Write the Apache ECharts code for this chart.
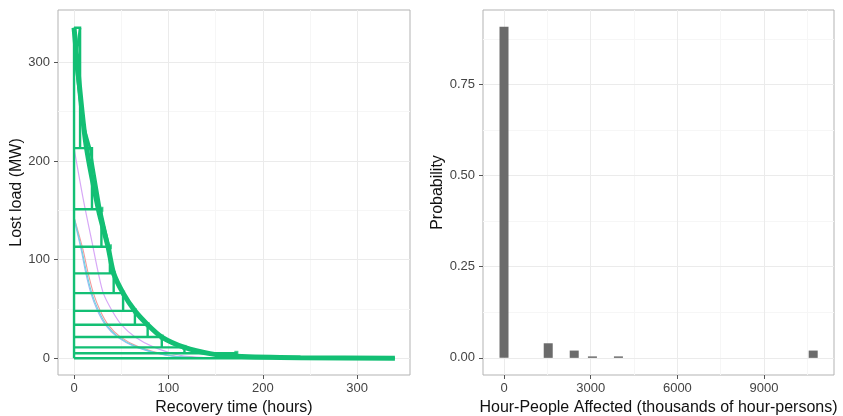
<!DOCTYPE html>
<html>
<head>
<meta charset="utf-8">
<script src="https://cdn.jsdelivr.net/npm/echarts@6/dist/echarts.min.js"></script>
<style>html,body{margin:0;padding:0;background:#fff}#c{width:843px;height:416px}</style>
</head>
<body>
<div id="c"></div>
<script>
// ---------- Left panel data ----------
const leftXTicks = [0, 100, 200, 300];
const leftXMinor = [50, 150, 250];
const leftYTicks = [0, 100, 200, 300];
const leftYMinor = [50, 150, 250];
const leftXRange = [-17, 356];
const leftYRange = [-17, 353];

// staircase: level and time at which it ends
const stepLevels = [335, 213, 151, 113, 86, 66, 48, 34, 21.5, 11, 5, 0];
const stepTimes  = [6.4, 19, 29, 38, 42, 52, 64.5, 78, 93, 117, 172, 340];

// thick green recovery curve
const thickT = [0, 12, 26, 36, 42, 52, 64.5, 78, 93, 117, 144, 172, 240, 340];
const thickV = [335, 221, 150, 113, 86, 66, 48, 34, 21.5, 11, 4.7, 2, 0.5, 0];
// second green trace near the top
const thick2T = [6.4, 1.5, 9, 17, 27.6, 37];
const thick2V = [335, 300, 240, 213, 153, 113];

// faint curves
const purpleT = [0, 10, 19, 25.8, 31, 40, 50.6, 64.7, 84, 112, 140, 170];
const purpleV = [213, 160, 118, 86, 66, 48.7, 33.5, 21.6, 11.5, 3, 0.5, 0];
const redT  = [0, 9.5, 15, 20.5, 27.5, 36.5, 49, 68.5, 100, 132, 152];
const redV  = [143, 110, 86, 66, 48.7, 33.5, 21.6, 11.5, 3, 0.5, 0];
const cyanT = [0, 8.2, 13.5, 18.8, 25.8, 34.6, 46.9, 66.4, 98.3, 130, 150];
const cyanV = [143, 110, 86, 66, 48.7, 33.5, 21.6, 11.5, 3, 0.5, 0];
const blueT = [0, 7.5, 12.5, 17.8, 24.6, 33.4, 45.5, 65, 97, 128, 148];
const blueV = [141, 110, 86, 66, 48.7, 33.5, 21.6, 11.5, 3, 0.5, 0];

// ---------- Right panel data ----------
const hpaValues  = [0, 1530, 2430, 3060, 3960, 10700];
const probValues = [0.908, 0.04, 0.02, 0.004, 0.004, 0.02];
const rightXTicks = [0, 3000, 6000, 9000];
const rightXMinor = [1500, 4500, 7500, 10500];
const rightYTicks = [0, 0.25, 0.5, 0.75];
const rightYMinor = [0.125, 0.375, 0.625, 0.875];
const rightXRange = [-727, 11420];
const rightYRange = [-0.047, 0.954];

const FONT = 'Liberation Sans, Arial, sans-serif';
const GREEN = '#13BF74';

function zip(a, b) { return a.map((v, i) => [v, b[i]]); }

function gridSegs(xs, ys, xr, yr) {
  return xs.map(v => ({ coords: [[v, yr[0]], [v, yr[1]]] }))
    .concat(ys.map(v => ({ coords: [[xr[0], v], [xr[1], v]] })));
}
function gridSeries(idx, xs, ys, xr, yr, color) {
  return { type: 'lines', coordinateSystem: 'cartesian2d', xAxisIndex: idx, yAxisIndex: idx, z: 0, silent: true,
    data: gridSegs(xs, ys, xr, yr), lineStyle: { color: color, width: 1, opacity: 1, type: 'solid' } };
}

// staircase polylines
const stairs = [{ coords: [[0, stepLevels[0]], [0, 0]] }];
for (let i = 0; i < stepLevels.length; i++) {
  const pts = [[0, stepLevels[i]], [stepTimes[i], stepLevels[i]]];
  if (i + 1 < stepLevels.length) pts.push([stepTimes[i], stepLevels[i + 1]]);
  stairs.push({ coords: pts });
}

const axisLabelStyle = { color: '#444', fontSize: 13, fontFamily: FONT };
const nameStyle = { color: '#111', fontSize: 16, fontFamily: FONT };

const option = {
  animation: false,
  backgroundColor: '#fff',
  grid: [
    { left: 58, top: 10, width: 352, height: 365, show: true, borderColor: '#b3b3b3', borderWidth: 1,
      backgroundColor: 'transparent', containLabel: false, outerBoundsMode: 'none' },
    { left: 483, top: 10, width: 351, height: 365, show: true, borderColor: '#b3b3b3', borderWidth: 1,
      backgroundColor: 'transparent', containLabel: false, outerBoundsMode: 'none' }
  ],
  xAxis: [
    {
      gridIndex: 0, type: 'value', min: leftXRange[0], max: leftXRange[1], position: 'bottom',
      name: 'Recovery time (hours)', nameLocation: 'middle', nameGap: 24, nameTextStyle: nameStyle,
      axisLine: { show: false, onZero: false },
      axisTick: { show: true, customValues: leftXTicks, length: 4, lineStyle: { color: '#555' } },
      axisLabel: Object.assign({ customValues: leftXTicks, margin: 7, formatter: v => String(v) }, axisLabelStyle),
      splitLine: { show: false }
    },
    {
      gridIndex: 1, type: 'value', min: rightXRange[0], max: rightXRange[1], position: 'bottom',
      name: 'Hour-People Affected (thousands of hour-persons)', nameLocation: 'middle', nameGap: 24, nameTextStyle: nameStyle,
      axisLine: { show: false, onZero: false },
      axisTick: { show: true, customValues: rightXTicks, length: 4, lineStyle: { color: '#555' } },
      axisLabel: Object.assign({ customValues: rightXTicks, margin: 7, formatter: v => String(v) }, axisLabelStyle),
      splitLine: { show: false }
    }
  ],
  yAxis: [
    {
      gridIndex: 0, type: 'value', min: leftYRange[0], max: leftYRange[1], position: 'left',
      name: 'Lost load (MW)', nameLocation: 'middle', nameGap: 30, nameTextStyle: nameStyle,
      axisLine: { show: false, onZero: false },
      axisTick: { show: true, customValues: leftYTicks, length: 4, lineStyle: { color: '#555' } },
      axisLabel: Object.assign({ customValues: leftYTicks, margin: 8, formatter: v => String(v) }, axisLabelStyle),
      splitLine: { show: false }
    },
    {
      gridIndex: 1, type: 'value', min: rightYRange[0], max: rightYRange[1], position: 'left',
      name: 'Probability', nameLocation: 'middle', nameGap: 33, nameTextStyle: nameStyle,
      axisLine: { show: false, onZero: false },
      axisTick: { show: true, customValues: rightYTicks, length: 4, lineStyle: { color: '#555' } },
      axisLabel: Object.assign({ customValues: rightYTicks, margin: 8,
        formatter: v => v.toFixed(2) }, axisLabelStyle),
      splitLine: { show: false }
    }
  ],
  series: [
    gridSeries(0, leftXMinor, leftYMinor, leftXRange, leftYRange, '#f6f6f6'),
    gridSeries(0, leftXTicks, leftYTicks, leftXRange, leftYRange, '#ebebeb'),
    gridSeries(1, rightXMinor, rightYMinor, rightXRange, rightYRange, '#f6f6f6'),
    gridSeries(1, rightXTicks, rightYTicks, rightXRange, rightYRange, '#ebebeb'),

    // faint curves
    { type: 'line', xAxisIndex: 0, yAxisIndex: 0, data: zip(purpleT, purpleV), smooth: 0.3, showSymbol: false, z: 2,
      lineStyle: { color: '#D7A8F7', width: 1.2 } },
    { type: 'line', xAxisIndex: 0, yAxisIndex: 0, data: zip(redT, redV), smooth: 0.3, showSymbol: false, z: 2,
      lineStyle: { color: '#F39A9A', width: 1.1 } },
    { type: 'line', xAxisIndex: 0, yAxisIndex: 0, data: zip(blueT, blueV), smooth: 0.3, showSymbol: false, z: 2,
      lineStyle: { color: '#9DB8F5', width: 1.1 } },
    { type: 'line', xAxisIndex: 0, yAxisIndex: 0, data: zip(cyanT, cyanV), smooth: 0.3, showSymbol: false, z: 2,
      lineStyle: { color: '#6FD3E0', width: 1.1 } },

    // staircase
    { type: 'lines', coordinateSystem: 'cartesian2d', xAxisIndex: 0, yAxisIndex: 0, polyline: true, z: 3,
      data: stairs, lineStyle: { color: GREEN, width: 2.4, opacity: 1 } },

    // thick curves
    { type: 'line', xAxisIndex: 0, yAxisIndex: 0, data: zip(thick2T, thick2V), showSymbol: false, z: 4,
      lineStyle: { color: GREEN, width: 2.5 } },
    { type: 'line', xAxisIndex: 0, yAxisIndex: 0, data: zip(thickT, thickV), smooth: 0.25, showSymbol: false, z: 4,
      lineStyle: { color: GREEN, width: 5 } },
    // corner marks
    { type: 'scatter', xAxisIndex: 0, yAxisIndex: 0, z: 4,
      data: zip(stepTimes.slice(2, 11), stepLevels.slice(2, 11)),
      symbol: 'rect', symbolSize: [4, 5], itemStyle: { color: GREEN } },

    // bars
    { type: 'bar', xAxisIndex: 1, yAxisIndex: 1, data: zip(hpaValues, probValues), barWidth: 9, z: 3,
      itemStyle: { color: '#6b6b6b' } }
  ]
};

const chart = echarts.init(document.getElementById('c'), null, { renderer: 'canvas' });
chart.setOption(option);
</script>
</body>
</html>
